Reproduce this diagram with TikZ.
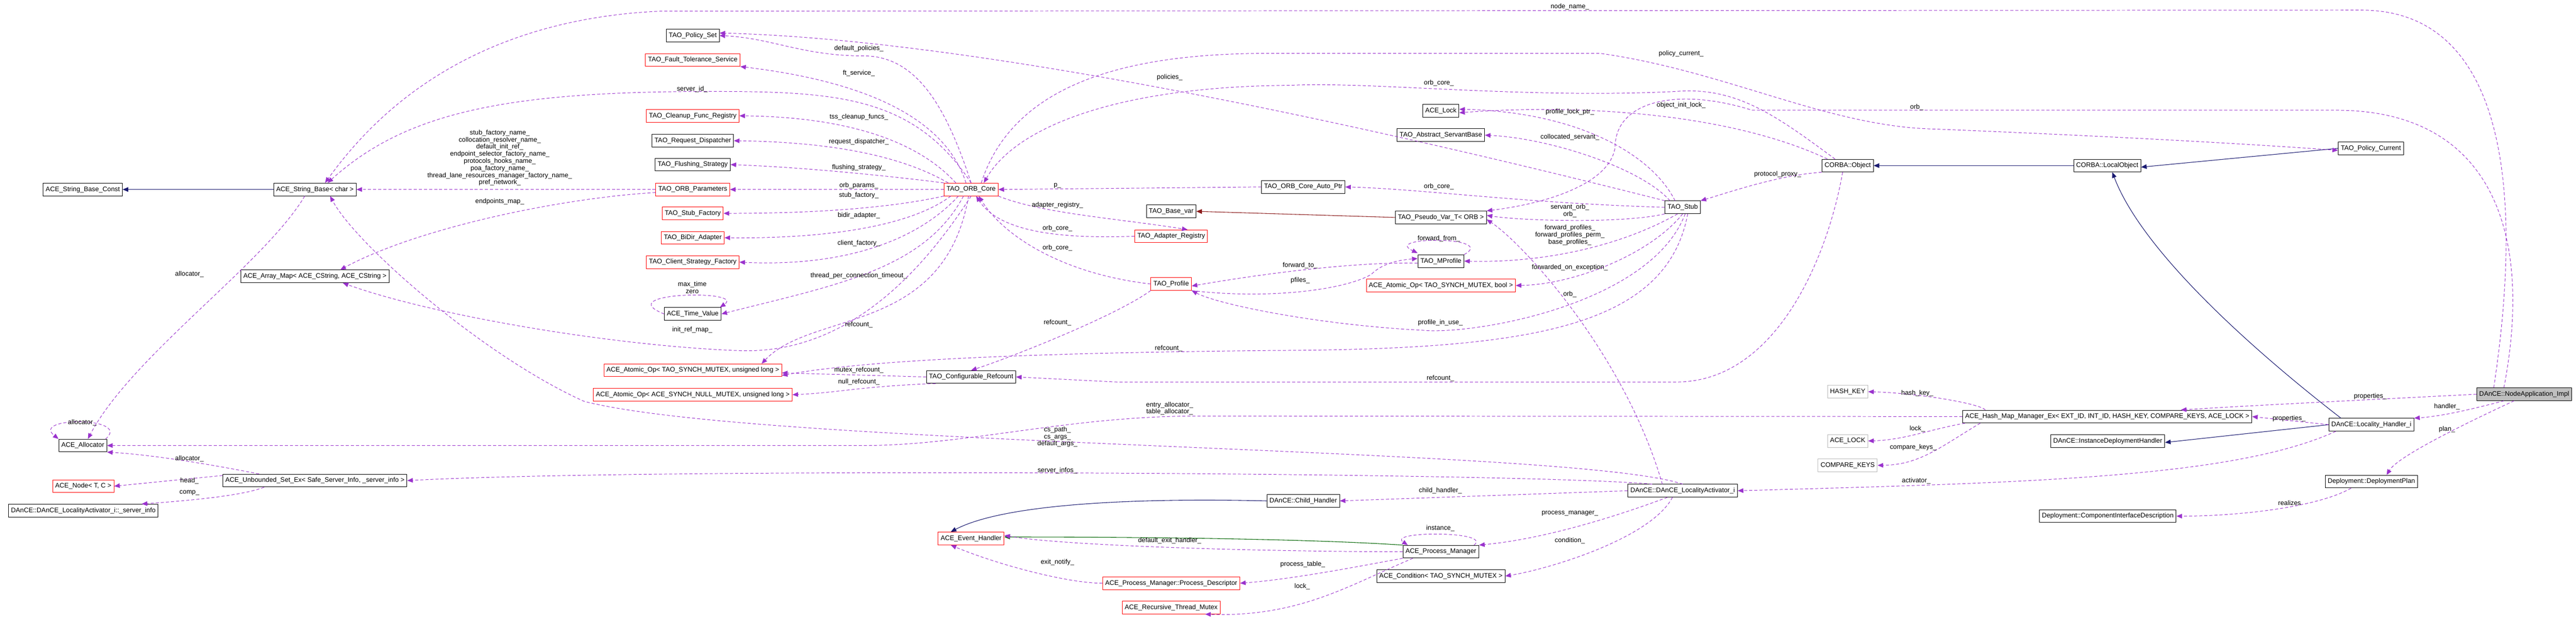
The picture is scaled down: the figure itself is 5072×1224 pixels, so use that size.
\documentclass[tikz,border=0pt]{standalone}
\usepackage{fontspec}
\setmainfont{Liberation Sans}
\usetikzlibrary{arrows.meta}
\definecolor{dep}{HTML}{9A32CD}
\definecolor{inh}{HTML}{191970}
\definecolor{prot}{HTML}{006400}
\definecolor{priv}{HTML}{8B1A1A}
\tikzset{
 cls/.style={draw=black,line width=1pt,fill=white,font=\fontsize{13}{15}\selectfont,minimum height=25,inner xsep=5,inner ysep=2},
 rcls/.style={cls,draw=red},
 gcls/.style={cls,draw=gray!55},
 lab/.style={font=\fontsize{13}{14}\selectfont,inner sep=0,align=center},
 depe/.style={draw=dep,line width=1pt,dash pattern=on 6pt off 4pt,-{Triangle[length=11pt,width=9pt]}},
 inhe/.style={draw=inh,line width=1.1pt,-{Triangle[length=11pt,width=9pt]}},
 prote/.style={draw=prot,line width=1.1pt,-{Triangle[length=11pt,width=9pt]}},
 prive/.style={draw=priv,line width=1.1pt,-{Triangle[length=11pt,width=9pt]}},
}
\begin{document}
\begin{tikzpicture}[x=1pt,y=-1pt]
\useasboundingbox (0,0) rectangle (5072,1224);
% nodes
\node[cls] (sbc) at (163,373) {ACE\_String\_Base\_Const};
\node[cls] (sb) at (620,373) {ACE\_String\_Base< char >};
\node[cls] (am) at (620,544) {ACE\_Array\_Map< ACE\_CString, ACE\_CString >};
\node[cls] (alloc) at (163,877) {ACE\_Allocator};
\node[rcls] (anode) at (164,957) {ACE\_Node< T, C >};
\node[cls] (sinfo) at (164,1005) {DAnCE::DAnCE\_LocalityActivator\_i::\_server\_info};
\node[cls] (uset) at (620,946) {ACE\_Unbounded\_Set\_Ex< Safe\_Server\_Info, \_server\_info >};
\node[cls] (pset) at (1364,70) {TAO\_Policy\_Set};
\node[rcls] (ft) at (1364,118) {TAO\_Fault\_Tolerance\_Service};
\node[rcls] (cfr) at (1364,228) {TAO\_Cleanup\_Func\_Registry};
\node[cls] (rd) at (1364,277) {TAO\_Request\_Dispatcher};
\node[cls] (fs) at (1364,324) {TAO\_Flushing\_Strategy};
\node[rcls] (op) at (1364,373) {TAO\_ORB\_Parameters};
\node[rcls] (sf) at (1364,420) {TAO\_Stub\_Factory};
\node[rcls] (bidir) at (1364,468) {TAO\_BiDir\_Adapter};
\node[rcls] (csf) at (1364,516) {TAO\_Client\_Strategy\_Factory};
\node[cls] (tv) at (1364,618) {ACE\_Time\_Value};
\node[rcls] (aoul) at (1364,729) {ACE\_Atomic\_Op< TAO\_SYNCH\_MUTEX, unsigned long >};
\node[rcls] (aonl) at (1364,777) {ACE\_Atomic\_Op< ACE\_SYNCH\_NULL\_MUTEX, unsigned long >};
\node[rcls] (oc) at (1912,373) {TAO\_ORB\_Core};
\node[cls] (cref) at (1912,742) {TAO\_Configurable\_Refcount};
\node[rcls] (eh) at (1912,1060) {ACE\_Event\_Handler};
\node[cls] (ocap) at (2566,368) {TAO\_ORB\_Core\_Auto\_Ptr};
\node[cls] (bvar) at (2306,416) {TAO\_Base\_var};
\node[rcls] (areg) at (2306,465) {TAO\_Adapter\_Registry};
\node[rcls] (prof) at (2306,559) {TAO\_Profile};
\node[rcls] (pd) at (2306,1148) {ACE\_Process\_Manager::Process\_Descriptor};
\node[rcls] (rtm) at (2306,1196) {ACE\_Recursive\_Thread\_Mutex};
\node[cls] (ch) at (2566,986) {DAnCE::Child\_Handler};
\node[cls] (lock) at (2837,218) {ACE\_Lock};
\node[cls] (asb) at (2837,266) {TAO\_Abstract\_ServantBase};
\node[cls] (pvar) at (2837,428) {TAO\_Pseudo\_Var\_T< ORB >};
\node[cls] (mprof) at (2837,514) {TAO\_MProfile};
\node[rcls] (aob) at (2837,562) {ACE\_Atomic\_Op< TAO\_SYNCH\_MUTEX, bool >};
\node[cls] (pm) at (2837,1086) {ACE\_Process\_Manager};
\node[cls] (cond) at (2837,1134) {ACE\_Condition< TAO\_SYNCH\_MUTEX >};
\node[cls] (stub) at (3313,408) {TAO\_Stub};
\node[cls] (lai) at (3313,966) {DAnCE::DAnCE\_LocalityActivator\_i};
\node[cls] (cobj) at (3638,326) {CORBA::Object};
\node[gcls] (hk) at (3638,771) {HASH\_KEY};
\node[gcls] (alock) at (3638,868) {ACE\_LOCK};
\node[gcls] (ck) at (3638,916) {COMPARE\_KEYS};
\node[cls] (lobj) at (4149,326) {CORBA::LocalObject};
\node[cls] (hmm) at (4149,820) {ACE\_Hash\_Map\_Manager\_Ex< EXT\_ID, INT\_ID, HASH\_KEY, COMPARE\_KEYS, ACE\_LOCK >};
\node[cls] (idh) at (4150,868) {DAnCE::InstanceDeploymentHandler};
\node[cls] (cid) at (4150,1016) {Deployment::ComponentInterfaceDescription};
\node[cls] (pcur) at (4668,292) {TAO\_Policy\_Current};
\node[cls] (lhi) at (4669,836) {DAnCE::Locality\_Handler\_i};
\node[cls] (dp) at (4669,948) {Deployment::DeploymentPlan};
\node[cls,fill=gray!50] (nai) at (4970,776) {DAnCE::NodeApplication\_Impl};

% inheritance
\draw[inhe] (sb.west) -- (sbc.east);
\draw[inhe] (lobj.west) -- (cobj.east);
\draw[inhe] (pcur.west) -- ([yshift=-3]lobj.east);
\draw[inhe] ([xshift=-60]lhi.north) .. controls (4450,700) and (4220,500) .. ([xshift=10]lobj.south);
\draw[inhe] (lhi.west) -- ([yshift=-3]idh.east);
\draw[inhe] (ch.west) .. controls (2250,980) and (1980,990) .. ([xshift=-40]eh.north);
\draw[prote] (pm.north west) .. controls (2600,1062) and (2300,1057) .. ([yshift=3]eh.east);
\draw[prive] (pvar.west) -- (bvar.east);

% dependencies
\draw[depe] (op.west) -- (sb.east);
\draw[depe] ([yshift=-6]op.west) .. controls (1100,390) and (820,450) .. ([xshift=50]am.north);
\draw[depe] (oc.north) .. controls (1800,190) and (1650,180) .. (1400,180) .. controls (1000,180) and (800,220) .. ([xshift=25]sb.north);
\draw[depe] ([xshift=-60]nai.north) .. controls (4980,300) and (4900,20) .. (4650,20) -- (1300,22) .. controls (900,40) and (720,250) .. ([xshift=20]sb.north);
\draw[depe] ([xshift=-20]sb.south) .. controls (520,520) and (260,700) .. ([xshift=10]alloc.north);
\draw[depe] ([xshift=45]alloc.north) .. controls (260,820) and (60,820) .. (alloc.north west);
\draw[depe] ([xshift=-110]uset.north) .. controls (420,915) and (300,895) .. (alloc.south east);
\draw[depe] ([yshift=10]uset.west) -- (anode.east);
\draw[depe] ([xshift=-100]uset.south) .. controls (480,975) and (380,985) .. ([xshift=115]sinfo.north);
\draw[depe] ([xshift=-60]lai.north) .. controls (3000,930) and (1300,920) .. (uset.east);
\draw[depe] (lai.north) .. controls (3100,880) and (1500,880) .. (1150,790) .. controls (950,700) and (700,480) .. ([xshift=30]sb.south);
\draw[depe] (hmm.west) -- (2350,819) .. controls (2100,820) and (1900,877) .. (1700,877) -- (alloc.east);
\draw[depe] (oc.south) .. controls (1800,560) and (1650,700) .. (1450,690) .. controls (1200,680) and (850,620) .. ([xshift=55]am.south);
% ORB_Core fan
\draw[depe] (oc.north) .. controls (1860,200) and (1800,110) .. (1700,110) .. controls (1580,110) and (1520,75) .. (pset.east);
\draw[depe] ([xshift=-10]oc.north) .. controls (1860,230) and (1700,160) .. (ft.south east);
\draw[depe] ([xshift=-30]oc.north) .. controls (1800,270) and (1650,230) .. (cfr.east);
\draw[depe] ([xshift=-45]oc.north) .. controls (1780,310) and (1650,280) .. (rd.east);
\draw[depe] (oc.north west) .. controls (1780,350) and (1600,330) .. (fs.east);
\draw[depe] (oc.west) -- (op.east);
\draw[depe] (oc.south west) .. controls (1750,410) and (1600,420) .. (sf.east);
\draw[depe] ([xshift=-40]oc.south) .. controls (1800,440) and (1650,470) .. (bidir.east);
\draw[depe] ([xshift=-25]oc.south) .. controls (1800,480) and (1650,525) .. (csf.east);
\draw[depe] ([xshift=-15]oc.south) .. controls (1820,530) and (1650,560) .. (tv.east);
\draw[depe] (tv.west) .. controls (1200,575) and (1470,570) .. ([xshift=-3]tv.north east);
\draw[depe] ([xshift=-5]oc.south) .. controls (1860,660) and (1600,610) .. ([xshift=-40]aoul.north east);
\draw[depe] (ocap.west) -- (oc.east);
\draw[depe] (oc.south east) .. controls (2050,420) and (2200,430) .. ([xshift=-40]areg.north east);
\draw[depe] (areg.west) .. controls (2100,470) and (1970,460) .. ([xshift=10]oc.south);
\draw[depe] (prof.west) .. controls (2100,540) and (1980,470) .. ([xshift=15]oc.south);
\draw[depe] (prof.south west) .. controls (2200,620) and (2000,700) .. (cref.north);
\draw[depe] (cref.west) -- ([yshift=-5]aoul.east);
\draw[depe] ([xshift=-70]cref.south) .. controls (1700,760) and (1650,773) .. (aonl.east);
\draw[depe] ([xshift=20]oc.north) .. controls (2000,150) and (2250,105) .. (2500,105) -- (3150,105) .. controls (3400,140) and (3600,250) .. (3810,254) .. controls (4200,270) and (4450,285) .. ([yshift=-4]pcur.west);
\draw[depe] ([xshift=-25]cobj.north) .. controls (3500,230) and (3420,170) .. (3300,180) .. controls (3000,195) and (2700,160) .. (2540,168) .. controls (2200,170) and (2000,250) .. ([xshift=25]oc.north);
\draw[depe] (stub.north west) .. controls (2900,300) and (2000,80) .. ([yshift=5]pset.east);
\draw[depe] (stub.west) .. controls (3000,400) and (2800,372) .. (ocap.east);
\draw[depe] ([xshift=-15]stub.north) .. controls (3250,300) and (3100,220) .. ([yshift=3]lock.east);
\draw[depe] ([xshift=-40]cobj.north) .. controls (3400,220) and (3100,205) .. ([yshift=-4]lock.east);
\draw[depe] ([xshift=-25]stub.north) .. controls (3230,330) and (3050,272) .. (asb.east);
\draw[depe] (stub.south west) .. controls (3200,440) and (3000,435) .. ([yshift=4]pvar.east);
\draw[depe] ([xshift=-40]nai.north) .. controls (4990,450) and (4900,217) .. (4600,217) -- (3450,217) .. controls (3300,170) and (3180,200) .. (3180,290) .. controls (3170,360) and (3050,400) .. (pvar.north east);
\draw[depe] ([xshift=-40]lai.north) .. controls (3200,700) and (3000,480) .. ([yshift=-4]pvar.east);
\draw[depe] ([xshift=-10]stub.south) .. controls (3200,480) and (3050,518) .. (mprof.east);
\draw[depe] (mprof.north east) .. controls (2950,465) and (2720,465) .. ([yshift=3]mprof.north west);
\draw[depe] ([yshift=-4]mprof.west) .. controls (2650,515) and (2450,545) .. ([yshift=-4]prof.east);
\draw[depe] (prof.south east) .. controls (2500,590) and (2650,570) .. (2700,540) .. controls (2720,520) and (2750,512) .. ([yshift=5]mprof.west);
\draw[depe] (stub.south) .. controls (3250,500) and (3100,560) .. (aob.east);
\draw[depe] ([xshift=5]stub.south) .. controls (3250,600) and (2900,660) .. (2800,650) .. controls (2600,640) and (2400,600) .. (prof.south east);
\draw[depe] ([xshift=10]stub.south) .. controls (3280,650) and (3000,688) .. (2500,690) .. controls (2000,695) and (1700,710) .. ([yshift=-10]aoul.east);
\draw[depe] ([xshift=-10]cobj.south) .. controls (3600,500) and (3500,752) .. (3300,752) -- (2200,752) -- (cref.east);
\draw[depe] (cobj.south west) .. controls (3500,345) and (3400,380) .. (stub.north east);
\draw[depe] (nai.west) .. controls (4600,790) and (4400,800) .. ([xshift=145]hmm.north);
\draw[depe] (lhi.west) -- (hmm.east);
\draw[depe] ([xshift=-40]nai.south) .. controls (4850,810) and (4800,820) .. (lhi.north east);
\draw[depe] ([xshift=-20]nai.south) .. controls (4840,840) and (4720,900) .. ([xshift=30]dp.north);
\draw[depe] ([xshift=-40]dp.south) .. controls (4560,1000) and (4400,1016) .. (cid.east);
\draw[depe] ([xshift=-240]hmm.north) .. controls (3900,795) and (3780,774) .. (hk.east);
\draw[depe] ([xshift=-280]hmm.south) .. controls (3800,845) and (3750,866) .. (alock.east);
\draw[depe] ([xshift=-250]hmm.south) .. controls (3820,880) and (3780,915) .. (ck.east);
\draw[depe] ([xshift=-70]lhi.south) .. controls (4400,940) and (4000,950) .. (lai.east);
\draw[depe] (lai.west) -- (ch.east);
\draw[depe] ([xshift=-30]lai.south) .. controls (3200,1010) and (3050,1060) .. (pm.north east);
\draw[depe] ([xshift=-20]lai.south) .. controls (3250,1060) and (3050,1120) .. (cond.east);
\draw[depe] (pm.west) .. controls (2500,1086) and (2100,1075) .. ([yshift=6]eh.east);
\draw[depe] ([xshift=-10]pm.north east) .. controls (2940,1045) and (2730,1045) .. ([xshift=10]pm.north west);
\draw[depe] (pm.south west) .. controls (2700,1110) and (2550,1140) .. (pd.east);
\draw[depe] ([xshift=20]pm.south west) .. controls (2660,1150) and (2560,1215) .. ([xshift=-30]rtm.south east);
\draw[depe] (pd.west) .. controls (2100,1148) and (1960,1110) .. ([xshift=-40]eh.south);

% labels
\node[lab,anchor=south] (l1) at (984,366) {stub\_factory\_name\_\\collocation\_resolver\_name\_\\default\_init\_ref\_\\endpoint\_selector\_factory\_name\_\\protocols\_hooks\_name\_\\poa\_factory\_name\_\\thread\_lane\_resources\_manager\_factory\_name\_\\pref\_network\_};
\node[lab] (l2) at (984,397) {endpoints\_map\_};
\node[lab] (l3) at (373,540) {allocator\_};
\node[lab] (l4) at (162,832) {allocator\_};
\node[lab] (l5) at (373,903) {allocator\_};
\node[lab] (l6) at (373,947) {head\_};
\node[lab] (l7) at (373,970) {comp\_};
\node[lab] (l8) at (1691,96) {default\_policies\_};
\node[lab] (l9) at (1691,144) {ft\_service\_};
\node[lab] (l10) at (1363,176) {server\_id\_};
\node[lab] (l11) at (1691,230) {tss\_cleanup\_funcs\_};
\node[lab] (l12) at (1691,279) {request\_dispatcher\_};
\node[lab] (l13) at (1691,330) {flushing\_strategy\_};
\node[lab] (l14) at (1691,365) {orb\_params\_};
\node[lab] (l15) at (1691,385) {stub\_factory\_};
\node[lab] (l16) at (1691,424) {bidir\_adapter\_};
\node[lab] (l17) at (1691,479) {client\_factory\_};
\node[lab] (l18) at (1691,543) {thread\_per\_connection\_timeout\_};
\node[lab] (l19) at (1363,566) {max\_time\\zero};
\node[lab] (l20) at (2082,366) {p\_};
\node[lab] (l21) at (2082,404) {adapter\_registry\_};
\node[lab] (l22) at (2082,449) {orb\_core\_};
\node[lab] (l23) at (2082,488) {orb\_core\_};
\node[lab] (l24) at (2303,152) {policies\_};
\node[lab] (l25) at (1363,649) {init\_ref\_map\_};
\node[lab] (l26) at (1691,639) {refcount\_};
\node[lab] (l27) at (2082,635) {refcount\_};
\node[lab] (l28) at (2301,686) {refcount\_};
\node[lab] (l29) at (1691,728) {mutex\_refcount\_};
\node[lab] (l30) at (1691,752) {null\_refcount\_};
\node[lab] (l31) at (2303,804) {entry\_allocator\_\\table\_allocator\_};
\node[lab] (l32) at (2082,860) {cs\_path\_\\cs\_args\_\\default\_args\_};
\node[lab] (l33) at (2082,926) {server\_infos\_};
\node[lab] (l34) at (2303,1064) {default\_exit\_handler\_};
\node[lab] (l35) at (2082,1107) {exit\_notify\_};
\node[lab] (l36) at (3091,13) {node\_name\_};
\node[lab] (l37) at (3310,106) {policy\_current\_};
\node[lab] (l38) at (2833,163) {orb\_core\_};
\node[lab] (l39) at (3310,207) {object\_init\_lock\_};
\node[lab] (l40) at (3091,220) {profile\_lock\_ptr\_};
\node[lab] (l41) at (3774,211) {orb\_};
\node[lab] (l42) at (3091,270) {collocated\_servant\_};
\node[lab] (l43) at (2833,367) {orb\_core\_};
\node[lab] (l44) at (3500,343) {protocol\_proxy\_};
\node[lab] (l45) at (3091,415) {servant\_orb\_\\orb\_};
\node[lab] (l46) at (3091,463) {forward\_profiles\_\\forward\_profiles\_perm\_\\base\_profiles\_};
\node[lab] (l47) at (2833,470) {forward\_from\_};
\node[lab] (l48) at (2560,523) {forward\_to\_};
\node[lab] (l49) at (2560,552) {pfiles\_};
\node[lab] (l50) at (3091,527) {forwarded\_on\_exception\_};
\node[lab] (l51) at (3091,579) {orb\_};
\node[lab] (l52) at (2836,635) {profile\_in\_use\_};
\node[lab] (l53) at (2836,745) {refcount\_};
\node[lab] (l54) at (3775,774) {hash\_key\_};
\node[lab] (l55) at (3775,844) {lock\_};
\node[lab] (l56) at (3767,881) {compare\_keys\_};
\node[lab] (l57) at (3773,947) {activator\_};
\node[lab] (l58) at (2836,966) {child\_handler\_};
\node[lab] (l59) at (3091,1011) {process\_manager\_};
\node[lab] (l60) at (2836,1040) {instance\_};
\node[lab] (l61) at (3091,1064) {condition\_};
\node[lab] (l62) at (2565,1111) {process\_table\_};
\node[lab] (l63) at (2564,1154) {lock\_};
\node[lab] (l64) at (4667,780) {properties\_};
\node[lab] (l65) at (4507,824) {properties\_};
\node[lab] (l66) at (4818,800) {handler\_};
\node[lab] (l67) at (4818,845) {plan\_};
\node[lab] (l68) at (4508,990) {realizes};
\end{tikzpicture}
\end{document}
